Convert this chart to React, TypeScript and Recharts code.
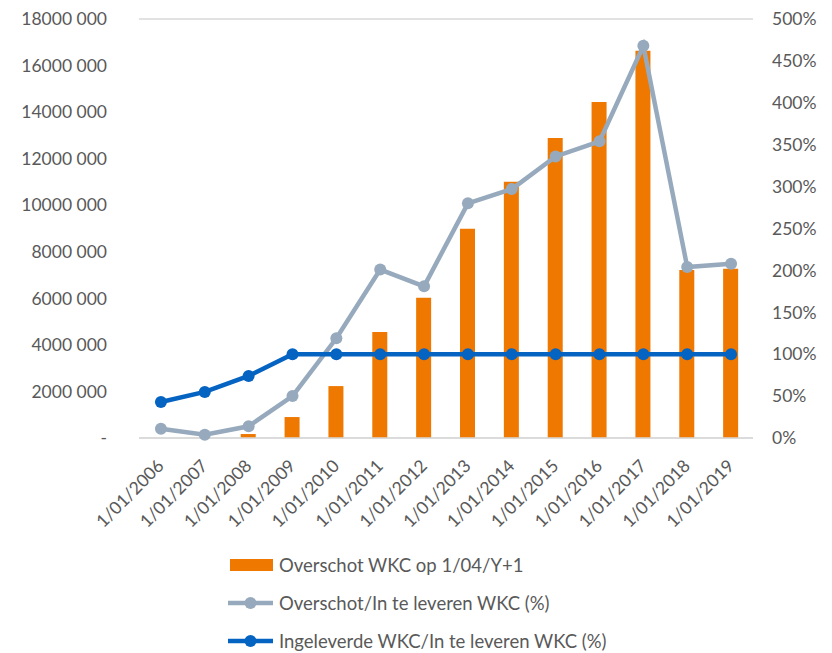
import { Bar, CartesianGrid, ComposedChart, Legend, Line, XAxis, YAxis } from "recharts";

const years = [
  "1/01/2006", "1/01/2007", "1/01/2008", "1/01/2009", "1/01/2010", "1/01/2011", "1/01/2012",
  "1/01/2013", "1/01/2014", "1/01/2015", "1/01/2016", "1/01/2017", "1/01/2018", "1/01/2019",
];
const overschot = [0, 0, 170000, 900000, 2230000, 4550000, 6020000, 8990000, 11010000, 12890000, 14430000, 16640000, 7220000, 7270000];
const overschotPct = [11, 4, 14, 50, 119, 201, 181, 280, 297, 336, 354, 468, 204, 208];
const ingeleverdPct = [43, 55, 74, 100, 100, 100, 100, 100, 100, 100, 100, 100, 100, 100];

const leftTicks = [0, 2000000, 4000000, 6000000, 8000000, 10000000, 12000000, 14000000, 16000000, 18000000];
const leftTickLabels = ["-", "2000 000", "4000 000", "6000 000", "8000 000", "10000 000", "12000 000", "14000 000", "16000 000", "18000 000"];
const rightTicks = [0, 50, 100, 150, 200, 250, 300, 350, 400, 450, 500];
const rightTickLabels = ["0%", "50%", "100%", "150%", "200%", "250%", "300%", "350%", "400%", "450%", "500%"];

const seriesNames = ["Overschot WKC op 1/04/Y+1", "Overschot/In te leveren WKC (%)", "Ingeleverde WKC/In te leveren WKC (%)"];

const ORANGE = "#EE7800";
const GREY = "#97AABD";
const BLUE = "#0563C1";
const TEXT = "#595959";
const FONT = "Lato, 'Open Sans', sans-serif";

const data = years.map((year, i) => ({
  year,
  overschot: overschot[i],
  overschotPct: overschotPct[i],
  ingeleverdPct: ingeleverdPct[i],
}));

function XTick(props: any) {
  const { x, y, payload } = props;
  const ax = x + 4;
  const ay = y + 21;
  return (
    <text x={ax} y={ay} transform={`rotate(-45, ${ax}, ${ay})`} textAnchor="end" fill={TEXT} fontSize={17.5} fontFamily={FONT}>
      {payload.value}
    </text>
  );
}

function LegendBox() {
  const row = { display: "flex", alignItems: "center", height: 38 } as const;
  const label = { marginLeft: 6, fontSize: 18.5, color: TEXT, fontFamily: FONT, whiteSpace: "nowrap" } as const;
  const lineIcon = (color: string) => (
    <svg width={45} height={14}>
      <line x1={0} y1={7} x2={45} y2={7} stroke={color} strokeWidth={4.5} />
      <circle cx={22.5} cy={7} r={6} fill={color} />
    </svg>
  );
  return (
    <div style={{ height: 120, paddingLeft: 228, paddingTop: 13, boxSizing: "border-box", overflow: "visible" }}>
      <div style={row}>
        <svg width={45} height={14}>
          <rect x={2} y={1} width={43} height={12} fill={ORANGE} />
        </svg>
        <span style={label}>{seriesNames[0]}</span>
      </div>
      <div style={row}>
        {lineIcon(GREY)}
        <span style={label}>{seriesNames[1]}</span>
      </div>
      <div style={row}>
        {lineIcon(BLUE)}
        <span style={label}>{seriesNames[2]}</span>
      </div>
    </div>
  );
}

export default function App() {
  return (
    <div style={{ position: "absolute", left: 0, top: 0, width: 832, height: 653, background: "#fff" }}>
      <ComposedChart width={832} height={653} data={data} margin={{ top: 19, right: 9, left: 19, bottom: 0 }} barCategoryGap={0}>
        <CartesianGrid vertical={false} stroke="#D9D9D9" strokeWidth={1.5} />
        <XAxis
          dataKey="year"
          height={95}
          interval={0}
          tickLine={false}
          axisLine={{ stroke: "#D9D9D9", strokeWidth: 1.5 }}
          tick={<XTick />}
        />
        <YAxis
          yAxisId="left"
          width={120}
          domain={[0, 18000000]}
          ticks={leftTicks}
          tickFormatter={(v: number) => leftTickLabels[leftTicks.indexOf(v)]}
          axisLine={false}
          tickLine={false}
          tickMargin={26}
          tick={{ fill: TEXT, fontSize: 17.5, fontFamily: FONT }}
        />
        <YAxis
          yAxisId="right"
          orientation="right"
          width={70}
          domain={[0, 500]}
          ticks={rightTicks}
          tickFormatter={(v: number) => rightTickLabels[rightTicks.indexOf(v)]}
          axisLine={false}
          tickLine={false}
          tickMargin={13}
          tick={{ fill: TEXT, fontSize: 17.5, fontFamily: FONT, textAnchor: "start" }}
        />
        <Legend verticalAlign="bottom" align="left" wrapperStyle={{ left: 0, width: 832 }} content={<LegendBox />} />
        <Bar yAxisId="left" dataKey="overschot" name={seriesNames[0]} fill={ORANGE} barSize={15} isAnimationActive={false} />
        <Line
          yAxisId="right"
          dataKey="overschotPct"
          name={seriesNames[1]}
          stroke={GREY}
          strokeWidth={4.5}
          dot={{ r: 6, fill: GREY, stroke: GREY, strokeWidth: 0 }}
          isAnimationActive={false}
        />
        <Line
          yAxisId="right"
          dataKey="ingeleverdPct"
          name={seriesNames[2]}
          stroke={BLUE}
          strokeWidth={4.5}
          dot={{ r: 6, fill: BLUE, stroke: BLUE, strokeWidth: 0 }}
          isAnimationActive={false}
        />
      </ComposedChart>
    </div>
  );
}
